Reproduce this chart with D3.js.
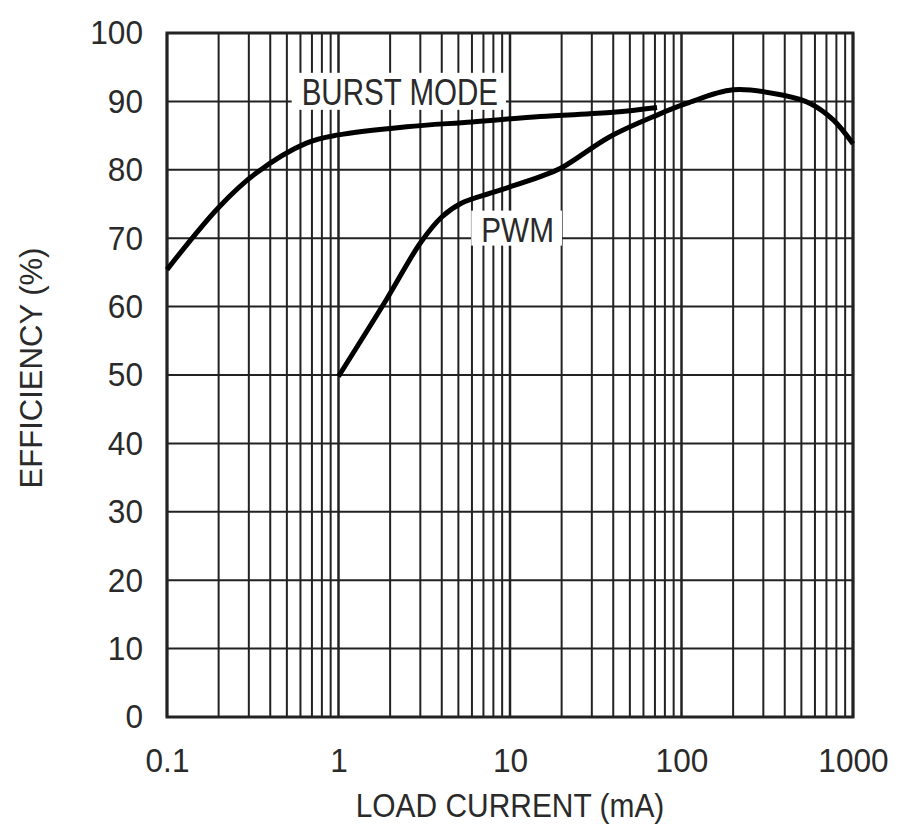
<!DOCTYPE html>
<html>
<head>
<meta charset="utf-8">
<script src="https://cdn.jsdelivr.net/npm/d3@7"></script>
<style>
  body { margin: 0; background: #fff; }
  svg { display: block; }
  text { font-family: "Liberation Sans", Arial, sans-serif; fill: #2a2a2a; }
</style>
</head>
<body>
<svg width="900" height="837"></svg>
<script>
// load current (mA) and efficiency (%)
var burstX = [0.1, 0.2, 0.33, 0.65, 1, 2.5, 6, 15, 40, 72];
var burstY = [65.4, 74.5, 79.5, 83.9, 85.1, 86.3, 87.0, 87.8, 88.4, 89.1];

var pwmX = [1, 1.9, 3, 4, 5.2, 8.2, 15, 20, 38, 72, 107, 200, 393, 562, 767, 1000];
var pwmY = [49.8, 61, 69.3, 73.1, 75.1, 76.8, 79, 80.3, 84.8, 88, 89.7, 91.7, 90.9, 89.7, 87.3, 83.8];

var xTicks = [0.1, 1, 10, 100, 1000];
var xTickLabels = ["0.1", "1", "10", "100", "1000"];
var yTicks = [0, 10, 20, 30, 40, 50, 60, 70, 80, 90, 100];

var svg = d3.select("svg"),
    mLeft = 167, mRight = 853, mTop = 33, mBottom = 717,
    ink = "#222";

var x = d3.scaleLog().domain([0.1, 1000]).range([mLeft, mRight]);
var y = d3.scaleLinear().domain([0, 100]).range([mBottom, mTop]);

// squeeze a text horizontally, the original uses a narrow face
function narrow(sel, k) {
  sel.each(function() {
    var len = this.getComputedTextLength();
    d3.select(this).attr("textLength", len * k).attr("lengthAdjust", "spacingAndGlyphs");
  });
}

// grid
var grid = svg.append("g").attr("stroke", ink).attr("stroke-width", 2);

grid.selectAll("line.v")
  .data(x.ticks())
  .enter().append("line")
    .attr("class", "v")
    .attr("x1", function(d) { return x(d); })
    .attr("x2", function(d) { return x(d); })
    .attr("y1", mTop)
    .attr("y2", mBottom)
    .attr("stroke-width", function(d) { return xTicks.indexOf(d) >= 0 ? 2.5 : 2; });

grid.selectAll("line.h")
  .data(yTicks)
  .enter().append("line")
    .attr("class", "h")
    .attr("x1", mLeft)
    .attr("x2", mRight)
    .attr("y1", function(d) { return y(d); })
    .attr("y2", function(d) { return y(d); });

// frame
svg.append("rect")
  .attr("x", mLeft).attr("y", mTop)
  .attr("width", mRight - mLeft).attr("height", mBottom - mTop)
  .attr("fill", "none").attr("stroke", ink).attr("stroke-width", 3);

// axes labels
var xAxis = svg.append("g")
  .attr("transform", "translate(0," + mBottom + ")")
  .call(d3.axisBottom(x).tickValues(xTicks)
    .tickFormat(function(d, i) { return xTickLabels[i]; })
    .tickSize(0).tickPadding(31));
xAxis.select(".domain").remove();
xAxis.selectAll("text").attr("font-size", 34).style("font-family", null).attr("fill", null)
  .call(narrow, 0.93);

var yAxis = svg.append("g")
  .attr("transform", "translate(" + mLeft + ",0)")
  .call(d3.axisLeft(y).tickValues(yTicks).tickSize(0).tickPadding(24));
yAxis.select(".domain").remove();
yAxis.selectAll("text").attr("font-size", 34).style("font-family", null).attr("fill", null)
  .call(narrow, 0.93);

svg.append("text")
  .attr("x", 510).attr("y", 817)
  .attr("text-anchor", "middle")
  .attr("font-size", 34)
  .text("LOAD CURRENT (mA)")
  .call(narrow, 0.88);

svg.append("text")
  .attr("transform", "translate(42,368) rotate(-90)")
  .attr("text-anchor", "middle")
  .attr("font-size", 32)
  .text("EFFICIENCY (%)")
  .call(narrow, 0.97);

// curve labels with white backing
function label(txt, xv, yv, size, k) {
  var g = svg.append("g");
  var t = g.append("text")
    .attr("x", x(xv)).attr("y", y(yv))
    .attr("font-size", size)
    .text(txt)
    .call(narrow, k);
  var b = t.node().getBBox();
  g.insert("rect", "text")
    .attr("x", b.x - 10).attr("y", b.y + 1)
    .attr("width", b.width + 18).attr("height", b.height - 4)
    .attr("fill", "#fff");
}
label("BURST MODE", 0.61, 89.5, 36, 0.82);
label("PWM", 6.8, 69.5, 35, 0.85);

// curves
var line = d3.line()
  .x(function(d) { return x(d[0]); })
  .y(function(d) { return y(d[1]); })
  .curve(d3.curveCatmullRom.alpha(0.5));

function series(xs, ys) {
  return xs.map(function(v, i) { return [v, ys[i]]; });
}

svg.selectAll("path.curve")
  .data([series(burstX, burstY), series(pwmX, pwmY)])
  .enter().append("path")
    .attr("class", "curve")
    .attr("d", line)
    .attr("fill", "none")
    .attr("stroke", "#000")
    .attr("stroke-width", 5)
    .attr("stroke-linejoin", "round");
</script>
</body>
</html>
